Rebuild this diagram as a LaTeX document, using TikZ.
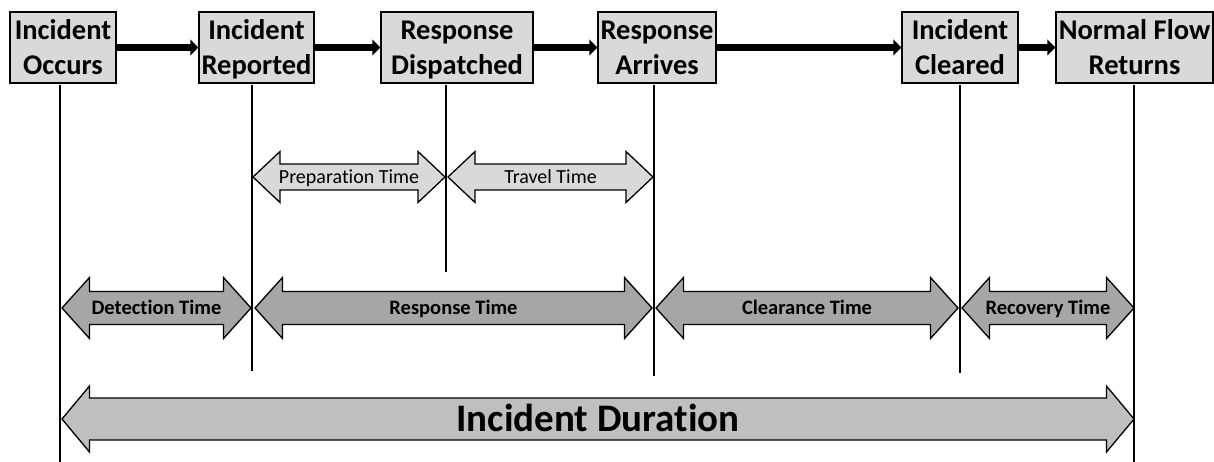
\documentclass[tikz,border=0pt]{standalone}
\usepackage{fontspec}
\setmainfont{Carlito}[Ligatures=NoCommon]
\usetikzlibrary{calc,arrows.meta}

\definecolor{boxgray}{HTML}{D9D9D9}
\definecolor{midgray}{HTML}{A6A6A6}
\definecolor{durgray}{HTML}{BFBFBF}

\tikzset{
  event/.style={draw=black, line width=1.5pt, fill=boxgray, align=center,
    inner sep=0pt, minimum height=71pt, text height=59pt, text depth=5pt,
    font=\bfseries\fontsize{28.5}{35}\selectfont},
  flow/.style={line width=7pt, -{Triangle[length=8pt,width=16pt]}},
  tick/.style={line width=2pt},
  smallspan/.style={draw=black, line width=1.3pt, fill=boxgray, line join=miter},
  midspan/.style={draw=black, line width=1.3pt, fill=midgray, line join=miter},
  durspan/.style={draw=black, line width=1.3pt, fill=durgray, line join=miter},
  smalllabel/.style={font=\fontsize{20}{22}\selectfont,
    text height=13pt, text depth=0pt, inner sep=0pt},
  midlabel/.style={font=\bfseries\fontsize{20.5}{22}\selectfont,
    text height=13.2pt, text depth=0pt, inner sep=0pt},
  durlabel/.style={font=\bfseries\fontsize{39}{42}\selectfont,
    text height=25pt, text depth=0pt, inner sep=0pt}
}

% double-headed span arrow between two tip coordinates
% #1 style, #2 left tip, #3 right tip, #4 shaft half height,
% #5 head half height, #6 head length, #7 label style, #8 label
\newcommand\spanarrow[8]{%
  \draw[#1] (#2) -- ($(#2)+(#6,-#5)$) -- ($(#2)+(#6,-#4)$)
    -- ($(#3)+(-#6,-#4)$) -- ($(#3)+(-#6,-#5)$) -- (#3)
    -- ($(#3)+(-#6,#5)$) -- ($(#3)+(-#6,#4)$)
    -- ($(#2)+(#6,#4)$) -- ($(#2)+(#6,#5)$) -- cycle;
  \path (#2) -- (#3) node[midway, #7] {#8};
}

\begin{document}
\begin{tikzpicture}[x=1pt, y=-1pt]
\useasboundingbox (0,0) rectangle (1214,462);

% events along the top
\node[event, minimum width=106pt] (occ) at (63,47.5) {Incident\\Occurs};
\node[event, minimum width=115pt] (rep) at (256.5,47.5) {Incident\\Reported};
\node[event, minimum width=152pt] (dis) at (457,47.5) {Response\\Dispatched};
\node[event, minimum width=118pt] (arr) at (657,47.5) {Response\\Arrives};
\node[event, minimum width=116pt] (clr) at (960,47.5) {Incident\\Cleared};
\node[event, minimum width=157pt] (nfr) at (1134.5,47.5) {Normal Flow\\Returns};

\draw[flow] (occ) -- (rep);
\draw[flow] (rep) -- (dis);
\draw[flow] (dis) -- (arr);
\draw[flow] (arr) -- (clr);
\draw[flow] (clr) -- (nfr);

% time marks below each event
\coordinate (t1) at (60,85);    \coordinate (e1) at (60,462);
\coordinate (t2) at (252,85);   \coordinate (e2) at (252,371);
\coordinate (t3) at (446,85);   \coordinate (e3) at (446,272);
\coordinate (t4) at (654,85);   \coordinate (e4) at (654,376);
\coordinate (t5) at (960,85);   \coordinate (e5) at (960,373);
\coordinate (t6) at (1134,85);  \coordinate (e6) at (1134,462);
\foreach \i in {1,...,6} { \draw[tick] (t\i) -- (e\i); }

% response sub-phases
\coordinate (pL) at (253,177);  \coordinate (pR) at (445,177);
\coordinate (vL) at (448,177);  \coordinate (vR) at (653,177);
\spanarrow{smallspan}{pL}{pR}{13}{25.5}{27}{smalllabel}{Preparation Time}
\spanarrow{smallspan}{vL}{vR}{13}{25.5}{27}{smalllabel}{Travel Time}

% main phases
\coordinate (dL) at (62,308);   \coordinate (dR) at (251,308);
\coordinate (rL) at (255,308);  \coordinate (rR) at (652,308);
\coordinate (cL) at (656,308);  \coordinate (cR) at (958,308);
\coordinate (yL) at (962,308);  \coordinate (yR) at (1134,308);
\spanarrow{midspan}{dL}{dR}{16.5}{30.5}{27.5}{midlabel}{Detection Time}
\spanarrow{midspan}{rL}{rR}{16.5}{30.5}{27.5}{midlabel}{Response Time}
\spanarrow{midspan}{cL}{cR}{16.5}{30.5}{27.5}{midlabel}{Clearance Time}
\spanarrow{midspan}{yL}{yR}{16.5}{30.5}{27.5}{midlabel}{Recovery Time}

% overall duration
\coordinate (uL) at (62,419);   \coordinate (uR) at (1134,419);
\spanarrow{durspan}{uL}{uR}{21}{33}{27.5}{durlabel}{Incident Duration}
\end{tikzpicture}
\end{document}
